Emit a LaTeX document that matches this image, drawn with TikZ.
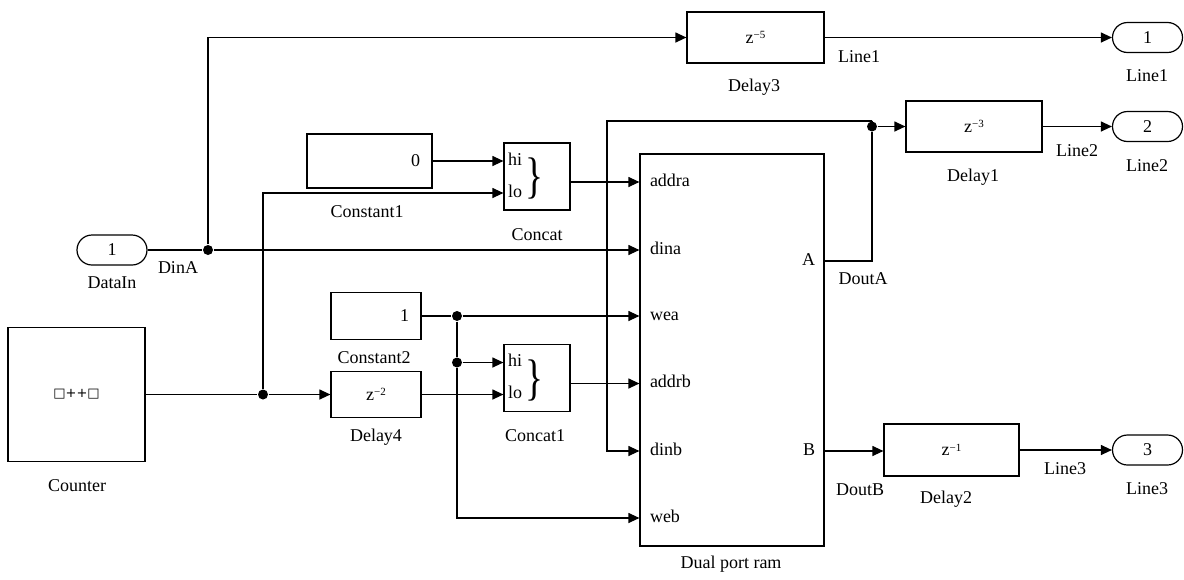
\documentclass[tikz,border=0pt]{standalone}
\usepackage{fontspec}
\setmainfont{Liberation Serif}
\newfontfamily\symfont{DejaVu Sans}
\usetikzlibrary{arrows.meta,shapes.misc,calc}
\newcommand{\zdel}[1]{z\raisebox{0.55ex}{\fontsize{11}{11}\selectfont −#1}}
\begin{document}
\begin{tikzpicture}[x=1pt,y=-1pt,line width=1.2pt,
  font=\fontsize{18}{20}\selectfont,
  >={Triangle[length=11pt,width=10pt]},
  blk/.style={draw,inner sep=0pt},
  port/.style={draw,rounded rectangle,inner sep=0pt,minimum width=70pt,minimum height=30pt},
  dot/.style={circle,fill,inner sep=0pt,minimum size=10pt},
  lbl/.style={inner sep=0pt,text height=12pt,text depth=4pt},
  pin/.style={inner sep=0pt,text height=12pt,text depth=4pt}]
\useasboundingbox (0,0) rectangle (1184,579);

% blocks
\node[blk,minimum width=137pt,minimum height=134pt] (counter) at (76.5,394.5) {\symfont\fontsize{13}{13}\selectfont □++□};
\node[port] (datain) at (112,250) {1};
\node[blk,minimum width=125pt,minimum height=54pt,text width=101pt,align=right] (const1) at (369.5,161) {0};
\node[blk,minimum width=66pt,minimum height=67pt] (concat) at (537,176.5) {};
\node[blk,minimum width=90pt,minimum height=47pt,text width=66pt,align=right] (const2) at (376,316) {1};
\node[blk,minimum width=90pt,minimum height=46pt] (delay4) at (376,394.5) {\zdel{2}};
\node[blk,minimum width=66pt,minimum height=67pt] (concat1) at (537,378) {};
\node[blk,minimum width=184pt,minimum height=392pt] (ram) at (732,350) {};
\node[blk,minimum width=137pt,minimum height=51pt] (delay3) at (755.5,37.5) {\zdel{5}};
\node[blk,minimum width=136pt,minimum height=51pt] (delay1) at (974,126.5) {\zdel{3}};
\node[blk,minimum width=135pt,minimum height=52pt] (delay2) at (951.5,450) {\zdel{1}};
\node[port] (line1) at (1147.5,37.5) {1};
\node[port] (line2) at (1147.5,126.5) {2};
\node[port] (line3) at (1147.5,450) {3};

% concat internals
\coordinate (concat-hi) at ($(concat.west)+(0,-15.5)$);
\coordinate (concat-lo) at ($(concat.west)+(0,16.5)$);
\coordinate (concat-out) at ($(concat.east)+(0,5.5)$);
\coordinate (concat1-hi) at ($(concat1.west)+(0,-15.5)$);
\coordinate (concat1-lo) at ($(concat1.west)+(0,16.5)$);
\coordinate (concat1-out) at ($(concat1.east)+(0,5.5)$);
\node[pin,anchor=west] (c-hi) at ($(concat-hi)+(4,0)$) {hi};
\node[pin,anchor=west] (c-lo) at ($(concat-lo)+(4,0)$) {lo};
\node[inner sep=0pt,font=\fontsize{50}{50}\selectfont,xscale=0.75] (c-br) at ($(concat.center)+(-3,2)$) {\}};
\node[pin,anchor=west] (c1-hi) at ($(concat1-hi)+(4,0)$) {hi};
\node[pin,anchor=west] (c1-lo) at ($(concat1-lo)+(4,0)$) {lo};
\node[inner sep=0pt,font=\fontsize{50}{50}\selectfont,xscale=0.75] (c1-br) at ($(concat1.center)+(-3,2)$) {\}};

% ram ports
\coordinate (ram-addra) at ($(ram.west)+(0,-168)$);
\coordinate (ram-dina) at ($(ram.west)+(0,-100)$);
\coordinate (ram-wea) at ($(ram.west)+(0,-34)$);
\coordinate (ram-addrb) at ($(ram.west)+(0,33.5)$);
\coordinate (ram-dinb) at ($(ram.west)+(0,101)$);
\coordinate (ram-web) at ($(ram.west)+(0,168)$);
\coordinate (ram-A) at ($(ram.east)+(0,-89)$);
\coordinate (ram-B) at ($(ram.east)+(0,101)$);
\node[pin,anchor=west] (p-addra) at ($(ram-addra)+(10,0)$) {addra};
\node[pin,anchor=west] (p-dina) at ($(ram-dina)+(10,0)$) {dina};
\node[pin,anchor=west] (p-wea) at ($(ram-wea)+(10,0)$) {wea};
\node[pin,anchor=west] (p-addrb) at ($(ram-addrb)+(10,0)$) {addrb};
\node[pin,anchor=west] (p-dinb) at ($(ram-dinb)+(10,0)$) {dinb};
\node[pin,anchor=west] (p-web) at ($(ram-web)+(10,0)$) {web};
\node[pin,anchor=east] (p-A) at ($(ram-A)+(-9,0)$) {A};
\node[pin,anchor=east] (p-B) at ($(ram-B)+(-9,0)$) {B};

% junctions
\node[dot] (j1) at (263,394.5) {};
\node[dot] (j2) at (208,250) {};
\node[dot] (j3) at (457,316) {};
\node[dot] (j4) at (j3 |- concat1-hi) {};
\node[dot] (j5) at (872,126.5) {};
\coordinate (fb) at (607,121);

% wires
\draw (counter.east) -- (j1);
\draw[->] (j1) -- (delay4.west);
\draw[->] (j1) |- (concat-lo);
\draw[->] (const1.east) -- (concat-hi);
\draw[->] (concat-out) -- (ram-addra);
\draw (datain.east) -- (j2);
\draw[->] (j2) -- (ram-dina);
\draw[->] (j2) |- (delay3.west);
\draw[->] (delay3.east) -- (line1.west);
\draw (const2.east) -- (j3);
\draw[->] (j3) -- (ram-wea);
\draw (j3) -- (j4);
\draw[->] (j4) -- (concat1-hi);
\draw[->] (j4) |- (ram-web);
\draw[->] (delay4.east) -- (concat1-lo);
\draw[->] (concat1-out) -- (ram-addrb);
\draw (ram-A) -| (j5);
\draw[->] (j5) -- (delay1.west);
\draw[->] (j5) |- (fb) |- (ram-dinb);
\draw[->] (delay1.east) -- (line2.west);
\draw[->] (ram-B) -- (ram-B -| delay2.west);
\draw[->] (delay2.east) -- (line3.west);

% block labels
\node[lbl] (l-counter) at (77,487) {Counter};
\node[lbl] (l-datain) at (112,284) {DataIn};
\node[lbl] (l-const1) at (367,213) {Constant1};
\node[lbl] (l-concat) at (537,236) {Concat};
\node[lbl] (l-const2) at (374,359) {Constant2};
\node[lbl] (l-delay4) at (376,437) {Delay4};
\node[lbl] (l-concat1) at (535,437) {Concat1};
\node[lbl] (l-ram) at (731,564) {Dual port ram};
\node[lbl] (l-delay3) at (754,87) {Delay3};
\node[lbl] (l-delay1) at (973,177) {Delay1};
\node[lbl] (l-delay2) at (946,499) {Delay2};
\node[lbl] (l-line1) at (1147,77) {Line1};
\node[lbl] (l-line2) at (1147,167) {Line2};
\node[lbl] (l-line3) at (1147,490) {Line3};

% wire labels
\node[lbl] (w-dina) at (178,269) {DinA};
\node[lbl] (w-line1) at (859,58) {Line1};
\node[lbl] (w-douta) at (863,280) {DoutA};
\node[lbl] (w-line2) at (1077,152) {Line2};
\node[lbl] (w-doutb) at (860,491) {DoutB};
\node[lbl] (w-line3) at (1065,470) {Line3};
\end{tikzpicture}
\end{document}
